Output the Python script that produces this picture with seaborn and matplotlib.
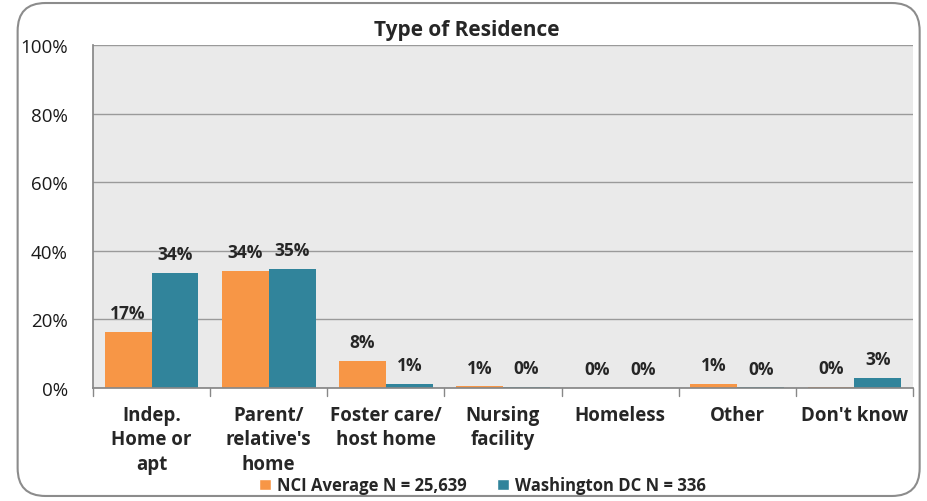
import matplotlib
matplotlib.use("Agg")
import matplotlib.pyplot as plt
from matplotlib.patches import FancyBboxPatch, Patch
import seaborn as sns
import pandas as pd

# values (percent)
categories = ["Indep.\nHome or\napt", "Parent/\nrelative's\nhome", "Foster care/\nhost home",
              "Nursing\nfacility", "Homeless", "Other", "Don't know"]
nci_avg = [16.4, 34.1, 7.9, 0.5, 0.1, 1.2, 0.4]
dc_vals = [33.6, 34.8, 1.2, 0.3, 0.1, 0.2, 2.9]
nci_labels = ["17%", "34%", "8%", "1%", "0%", "1%", "0%"]
dc_labels = ["34%", "35%", "1%", "0%", "0%", "0%", "3%"]
series = ["NCI Average N = 25,639", "Washington DC N = 336"]
colors = ["#F79646", "#31849B"]

df = pd.DataFrame({
    "category": categories * 2,
    "value": nci_avg + dc_vals,
    "series": [series[0]] * len(categories) + [series[1]] * len(categories),
})

sns.set_theme(style="white")
plt.rcParams["font.family"] = ["Open Sans", "DejaVu Sans"]

fig = plt.figure(figsize=(9.28, 5.02), dpi=100)
ax = fig.add_axes([0.1002, 0.225, 0.8836, 0.683])

sns.barplot(data=df, x="category", y="value", hue="series", palette=colors,
            width=0.8, saturation=1, linewidth=0, ax=ax, legend=False)

ax.set_facecolor("#EAEAEA")
ax.set_ylim(0, 100)
ax.set_xlim(-0.5, len(categories) - 0.5)
ax.set_yticks(range(0, 101, 20))
ax.set_yticklabels([f"{t}%" for t in range(0, 101, 20)], fontsize=13.5, color="#1A1A1A")
ax.yaxis.grid(True, color="#9A9A9A", linewidth=1)
ax.set_axisbelow(True)
ax.set_xlabel("")
ax.set_ylabel("")
ax.tick_params(axis="y", length=6, color="#888888", pad=12)

# category labels between boundary ticks
ax.set_xticks(range(len(categories)))
ax.set_xticklabels(categories, fontsize=13.5, fontweight="bold", va="top", linespacing=1.3)
ax.tick_params(axis="x", length=0, pad=12)
for b in [i - 0.5 for i in range(len(categories) + 1)]:
    ax.plot([b, b], [0, -2.3], color="#888888", linewidth=1, clip_on=False)

for s in ["top", "right"]:
    ax.spines[s].set_visible(False)
ax.spines["left"].set_color("#888888")
ax.spines["bottom"].set_color("#888888")

# data labels
for container, labels in zip(ax.containers, [nci_labels, dc_labels]):
    ax.bar_label(container, labels=labels, padding=7, fontsize=12.5, fontweight="bold")

fig.text(0.503, 0.939, "Type of Residence", ha="center", va="center",
         fontsize=15, fontweight="bold")

handles = [Patch(facecolor=c, label=s) for c, s in zip(colors, series)]
fig.legend(handles=handles, loc="center", bbox_to_anchor=(0.52, 0.031), ncol=2,
           frameon=False, prop={"weight": "bold", "size": 12},
           handlelength=0.7, handleheight=0.7, handletextpad=0.4, columnspacing=1.8)

border = FancyBboxPatch((0.019, 0.01), 0.972, 0.982, boxstyle="round,pad=0,rounding_size=0.03",
                        transform=fig.transFigure, facecolor="none", edgecolor="#8C8C8C",
                        linewidth=1.5, mutation_aspect=928 / 502)
fig.patches.append(border)

fig.savefig("out.png", dpi=100)
